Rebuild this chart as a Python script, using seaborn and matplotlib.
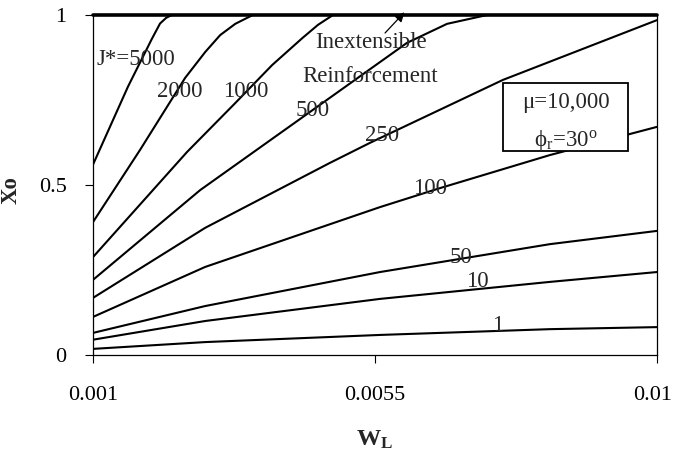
import matplotlib
matplotlib.use("Agg")
import matplotlib.pyplot as plt
from matplotlib.patches import Rectangle
from matplotlib.transforms import ScaledTranslation
import numpy as np
import pandas as pd
import seaborn as sns

# Normalised active length Xo versus W_L for several reinforcement stiffnesses J*
stiffness = [5000, 2000, 1000, 500, 250, 100, 50, 10, 1]

wl_5000 = [0.0010, 0.00156, 0.00194, 0.00207, 0.00217, 0.00226]
xo_5000 = [0.56, 0.79, 0.93, 0.975, 0.992, 1.0]

wl_2000 = [0.0010, 0.00175, 0.00247, 0.00279, 0.00303, 0.00327, 0.00355]
xo_2000 = [0.391, 0.603, 0.815, 0.891, 0.941, 0.974, 1.0]

wl_1000 = [0.0010, 0.00250, 0.00327, 0.00386, 0.00434, 0.00459, 0.00483]
xo_1000 = [0.288, 0.597, 0.741, 0.853, 0.932, 0.971, 1.0]

wl_500 = [0.0010, 0.00271, 0.00473, 0.00601, 0.00665, 0.00729]
xo_500 = [0.221, 0.485, 0.750, 0.918, 0.974, 1.0]

wl_250 = [0.0010, 0.00279, 0.00478, 0.00542, 0.00754, 0.0100]
xo_250 = [0.168, 0.374, 0.565, 0.624, 0.809, 0.985]

wl_100 = [0.0010, 0.00279, 0.00558, 0.00654, 0.00829, 0.0100]
xo_100 = [0.112, 0.259, 0.435, 0.491, 0.588, 0.671]

wl_50 = [0.0010, 0.00279, 0.00558, 0.00829, 0.0100]
xo_50 = [0.065, 0.144, 0.244, 0.326, 0.365]

wl_10 = [0.0010, 0.00279, 0.00558, 0.00829, 0.0100]
xo_10 = [0.045, 0.100, 0.165, 0.215, 0.244]

wl_1 = [0.0010, 0.00279, 0.00558, 0.00829, 0.0100]
xo_1 = [0.018, 0.038, 0.059, 0.076, 0.082]

# Inextensible reinforcement: Xo stays at 1 over the whole range
wl_inext = [0.001, 0.01]
xo_inext = [1.0, 1.0]

x_ticks = [0.001, 0.0055, 0.01]
x_ticklabels = ["0.001", "0.0055", "0.01"]
y_ticks = [0, 0.5, 1]
y_ticklabels = ["0", "0.5", "1"]

curve_labels = ["J*=5000", "2000", "1000", "500", "250", "100", "50", "10", "1"]
# label anchor (W_L, Xo)
label_wl = [0.00106, 0.00239, 0.00343, 0.00450, 0.00561, 0.00638, 0.00687, 0.00714, 0.00745]
label_xo = [0.868, 0.774, 0.774, 0.718, 0.647, 0.491, 0.288, 0.215, 0.088]

series = {
    5000: (wl_5000, xo_5000), 2000: (wl_2000, xo_2000), 1000: (wl_1000, xo_1000),
    500: (wl_500, xo_500), 250: (wl_250, xo_250), 100: (wl_100, xo_100),
    50: (wl_50, xo_50), 10: (wl_10, xo_10), 1: (wl_1, xo_1),
}
frames = []
for j in stiffness:
    wl, xo = series[j]
    frames.append(pd.DataFrame({"WL": wl, "Xo": xo, "J": j}))
df = pd.concat(frames, ignore_index=True)

sns.set_style("ticks")
plt.rcParams["font.family"] = ["Liberation Serif", "DejaVu Serif"]
plt.rcParams["mathtext.fontset"] = "custom"
plt.rcParams["mathtext.rm"] = "Liberation Serif"
plt.rcParams["mathtext.it"] = "Liberation Serif"
plt.rcParams["mathtext.bf"] = "Liberation Serif:bold"

FS = 16.5
TICK_FS = 16
fig = plt.figure(figsize=(6.75, 4.51), dpi=100)
ax = fig.add_axes([93 / 675, 1 - 355 / 451, 564 / 675, 340 / 451])

sns.lineplot(data=df, x="WL", y="Xo", hue="J", units="J", estimator=None, sort=False,
             palette={j: "black" for j in stiffness}, legend=False, linewidth=1.5, ax=ax)
sns.lineplot(x=wl_inext, y=xo_inext, color="black", linewidth=2.6, ax=ax)
for line in ax.lines[-1:]:
    line.set_clip_on(False)

ax.set_xlim(0.001, 0.01)
ax.set_ylim(0, 1)
ax.set_xticks(x_ticks)
ax.set_xticklabels(x_ticklabels)
ax.set_yticks(y_ticks)
ax.set_yticklabels(y_ticklabels)
ax.tick_params(axis="x", direction="out", length=6, width=0.8, pad=16, labelsize=TICK_FS, colors="black")
ax.tick_params(axis="y", direction="out", length=6, width=0.8, pad=13, labelsize=TICK_FS, colors="black")

# keep the right-most tick label inside the canvas
last = ax.get_xticklabels()[-1]
last.set_transform(last.get_transform() + ScaledTranslation(-4 / 100, 0, fig.dpi_scale_trans))

for side in ["left", "bottom", "right"]:
    ax.spines[side].set_visible(True)
    ax.spines[side].set_linewidth(0.9)
    ax.spines[side].set_color("black")
ax.spines["top"].set_visible(False)

ax.set_xlabel(r"$\mathbf{W}_\mathbf{L}$", fontsize=FS + 1)
ax.set_ylabel("Xo", fontsize=FS, fontweight="bold")
ax.xaxis.set_label_coords(0.5, -0.25)
ax.xaxis.label.set_va("center")
ax.yaxis.set_label_coords(-0.145, 0.485)
ax.yaxis.label.set_va("center")

for txt, x, y in zip(curve_labels, label_wl, label_xo):
    ax.text(x, y, txt, fontsize=FS, ha="left" if txt.startswith("J") else "center",
            va="center")

ax.text(0.00544, 0.918, "Inextensible", fontsize=FS, ha="center", va="center")
ax.text(0.00542, 0.818, "Reinforcement", fontsize=FS, ha="center", va="center")
ax.annotate("", xy=(0.00597, 1.008), xytext=(0.00566, 0.947),
            arrowprops=dict(arrowstyle="-|>", color="black", lw=0.9,
                            mutation_scale=14, shrinkA=0, shrinkB=0),
            annotation_clip=False)

box = Rectangle((0.007543, 0.60), 0.009537 - 0.007543, 0.20, facecolor="white",
                edgecolor="black", linewidth=1.3, zorder=3)
ax.add_patch(box)
ax.text(0.00855, 0.744, "\u03bc=10,000", fontsize=FS, ha="center", va="center", zorder=4)
ax.text(0.00855, 0.632, r"$\mathrm{\phi}_\mathrm{r}$=30$^\mathrm{o}$", fontsize=FS,
        ha="center", va="center", zorder=4)

fig.savefig("out.png", dpi=100, facecolor="white")
